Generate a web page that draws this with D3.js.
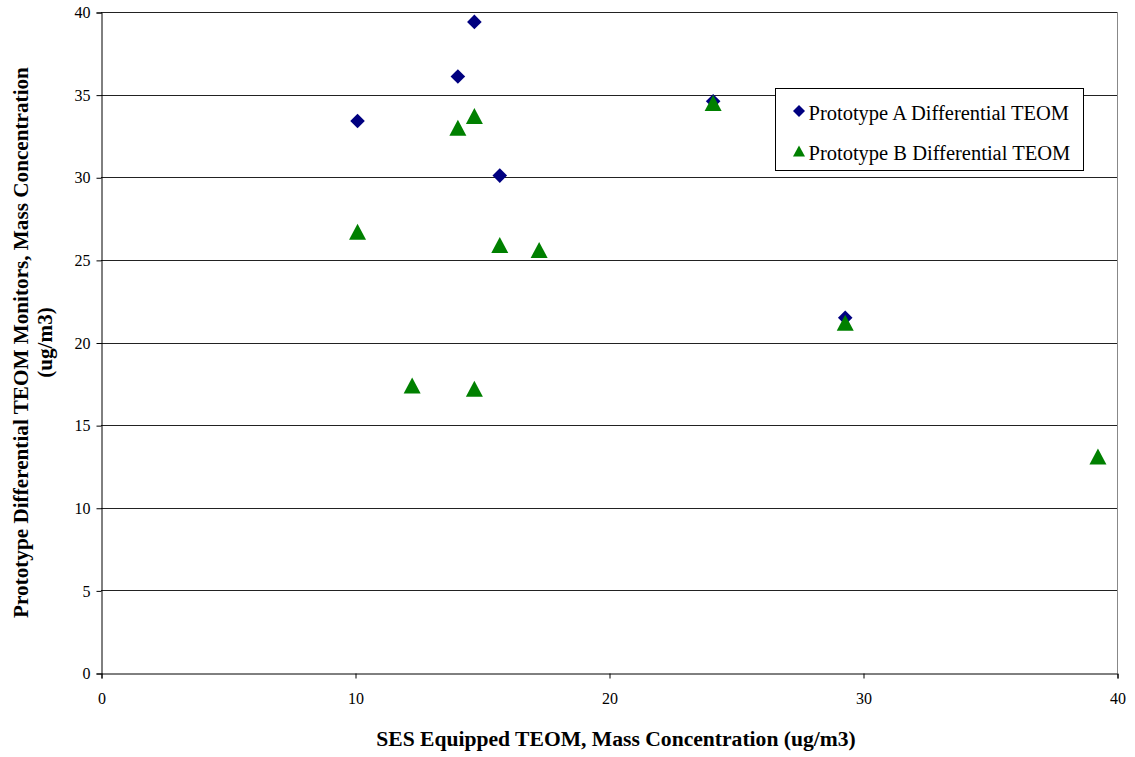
<!DOCTYPE html>
<html>
<head>
<meta charset="utf-8">
<script src="https://cdn.jsdelivr.net/npm/d3@7"></script>
<style>
  html, body { margin: 0; padding: 0; background: #fff; }
  svg { display: block; font-family: "Liberation Serif", "Times New Roman", serif; }
</style>
</head>
<body>
<svg id="chart" width="1135" height="757"></svg>
<script>
// SES equipped TEOM (x) vs prototype differential TEOM (y), ug/m3
const seriesNames = ["Prototype A Differential TEOM", "Prototype B Differential TEOM"];
const protoA_x = [10.1, 14.05, 14.7, 15.7, 24.1, 29.3];
const protoA_y = [33.4, 36.1, 39.4, 30.1, 34.6, 21.5];
const protoB_x = [10.1, 12.25, 14.05, 14.7, 14.7, 15.7, 17.25, 24.1, 29.3, 39.25];
const protoB_y = [26.7, 17.4, 33.0, 33.7, 17.2, 25.9, 25.6, 34.5, 21.2, 13.1];
const xTicks = [0, 10, 20, 30, 40];
const yTicks = [0, 5, 10, 15, 20, 25, 30, 35, 40];
const xTitle = "SES Equipped TEOM, Mass Concentration (ug/m3)";
const yTitleLines = ["Prototype Differential TEOM Monitors, Mass Concentration", "(ug/m3)"];

const svg = d3.select("#chart");
const plot = { left: 101, right: 1117, top: 12, bottom: 673 };

const x = d3.scaleLinear().domain([0, 40]).range([plot.left, plot.right]);
const y = d3.scaleLinear().domain([0, 40]).range([plot.bottom, plot.top]);

// horizontal gridlines
svg.append("g")
  .selectAll("line")
  .data(yTicks.filter(d => d > 0))
  .join("line")
  .attr("x1", plot.left).attr("x2", plot.right)
  .attr("y1", d => Math.round(y(d)) + 0.5).attr("y2", d => Math.round(y(d)) + 0.5)
  .attr("stroke", "#222").attr("stroke-width", 1);

// right border
svg.append("line")
  .attr("x1", plot.right + 0.5).attr("x2", plot.right + 0.5)
  .attr("y1", plot.top).attr("y2", plot.bottom)
  .attr("stroke", "#888").attr("stroke-width", 1);

// axes
const yAxis = d3.axisLeft(y).tickValues(yTicks).tickSize(5).tickPadding(6).tickFormat(d3.format("d"));
const xAxis = d3.axisBottom(x).tickValues(xTicks).tickSize(5).tickPadding(14).tickFormat(d3.format("d"));

const gy = svg.append("g").attr("transform", `translate(${plot.left + 0.5},0.5)`).call(yAxis);
const gx = svg.append("g").attr("transform", `translate(0.5,${plot.bottom + 0.5})`).call(xAxis);
[gx, gy].forEach(g => {
  g.select(".domain").attr("stroke", "#000");
  g.selectAll(".tick line").attr("stroke", "#000");
  g.selectAll(".tick text")
    .attr("fill", "#000")
    .style("font-family", "'Liberation Serif', 'Times New Roman', serif")
    .style("font-size", "16px");
});

// markers
const diamond = s => `M0,${-s}L${s},0L0,${s}L${-s},0Z`;
const triangle = (w, h) => `M0,${-h / 2}L${w / 2},${h / 2}L${-w / 2},${h / 2}Z`;

svg.append("g")
  .selectAll("path")
  .data(protoA_x.map((v, i) => [v, protoA_y[i]]))
  .join("path")
  .attr("transform", d => `translate(${x(d[0])},${y(d[1])})`)
  .attr("d", diamond(7.3))
  .attr("fill", "#000080");

svg.append("g")
  .selectAll("path")
  .data(protoB_x.map((v, i) => [v, protoB_y[i]]))
  .join("path")
  .attr("transform", d => `translate(${x(d[0])},${y(d[1])})`)
  .attr("d", triangle(17, 16))
  .attr("fill", "#008000");

// axis titles
svg.append("text")
  .attr("x", (plot.left + plot.right) / 2 + 7)
  .attr("y", 746)
  .attr("text-anchor", "middle")
  .style("font-size", "21.6px")
  .style("font-weight", "bold")
  .text(xTitle);

const yTitle = svg.append("text")
  .attr("transform", `translate(28,${(plot.top + plot.bottom) / 2}) rotate(-90)`)
  .attr("text-anchor", "middle")
  .style("font-size", "21.2px")
  .style("font-weight", "bold");
yTitle.selectAll("tspan")
  .data(yTitleLines)
  .join("tspan")
  .attr("x", 0)
  .attr("dy", (d, i) => i === 0 ? 0 : 24)
  .text(d => d);

// legend
const legend = svg.append("g").attr("transform", "translate(775.5,88.5)");
legend.append("rect")
  .attr("width", 308).attr("height", 82)
  .attr("fill", "#fff").attr("stroke", "#000").attr("stroke-width", 1);
const rows = legend.selectAll("g.row")
  .data(seriesNames)
  .join("g")
  .attr("class", "row")
  .attr("transform", (d, i) => `translate(0,${22.5 + i * 40})`);
rows.append("path")
  .attr("transform", "translate(23.5,0)")
  .attr("d", (d, i) => i === 0 ? diamond(6) : triangle(12, 11))
  .attr("fill", (d, i) => i === 0 ? "#000080" : "#008000");
rows.append("text")
  .attr("x", 33)
  .attr("y", 9)
  .style("font-size", "20.5px")
  .text(d => d);
</script>
</body>
</html>
